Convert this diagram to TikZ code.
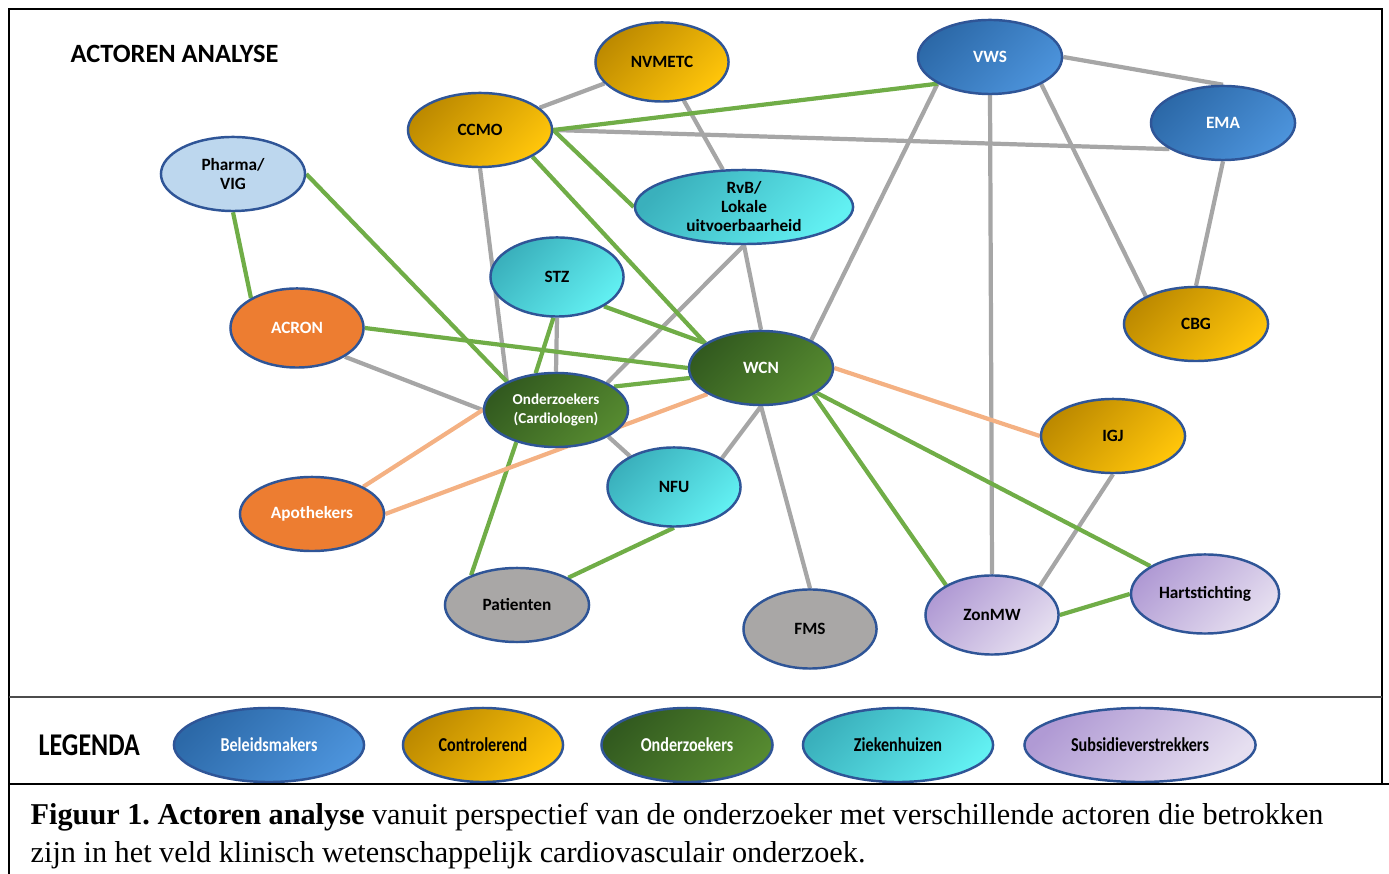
\documentclass[tikz,border=0pt]{standalone}
\usepackage{fontspec}
\setmainfont{Liberation Serif}
\setsansfont{Carlito}
\newfontfamily\legfont[FakeStretch=0.82]{Carlito}
\usetikzlibrary{shapes,backgrounds}
\frenchspacing

\definecolor{rim}{HTML}{2F5597}
\definecolor{beldark}{HTML}{2C69A8}
\definecolor{bellight}{HTML}{4C93DB}
\definecolor{condark}{HTML}{BD8A00}
\definecolor{conlight}{HTML}{FFC50A}
\definecolor{onddark}{HTML}{325A1F}
\definecolor{ondlight}{HTML}{568A30}
\definecolor{ziedark}{HTML}{3AB0BC}
\definecolor{zielight}{HTML}{62F0F2}
\definecolor{subdark}{HTML}{B09AD4}
\definecolor{sublight}{HTML}{E6DFF0}
\definecolor{oranje}{HTML}{ED7D31}
\definecolor{grijsvlak}{HTML}{A9A7A6}
\definecolor{pharmavlak}{HTML}{BDD7EE}
\definecolor{lijngrijs}{HTML}{A6A6A6}
\definecolor{lijngroen}{HTML}{70AD47}
\definecolor{lijnoranje}{HTML}{F4B183}

\begin{document}
\begin{tikzpicture}
[x=0.01cm, y=-0.01cm,
 actor/.style={ellipse, draw=rim, line width=0.7pt, inner sep=0pt, align=center,
   minimum width=1.44cm, minimum height=0.74cm,
   font=\sffamily\bfseries\fontsize{4.9}{5.4}\selectfont},
 rond/.style={minimum width=1.33cm, minimum height=0.79cm},
 beleid/.style={actor, top color=beldark, bottom color=bellight, shading angle=45, text=white},
 controle/.style={actor, top color=condark, bottom color=conlight, shading angle=45},
 onderz/.style={actor, top color=onddark, bottom color=ondlight, shading angle=45, text=white},
 zieken/.style={actor, top color=ziedark, bottom color=zielight, shading angle=45},
 subsidie/.style={actor, top color=subdark, bottom color=sublight, shading angle=45},
 apotheek/.style={actor, fill=oranje, text=white},
 grijs/.style={actor, fill=grijsvlak},
 pharma/.style={actor, fill=pharmavlak},
 legenda/.style={font=\legfont\bfseries\fontsize{5.6}{6}\selectfont},
 neutraal/.style={draw=lijngrijs, line width=1.2pt},
 positief/.style={draw=lijngroen, line width=1.2pt},
 spanning/.style={draw=lijnoranje, line width=1.2pt}]
\useasboundingbox (0,0) rectangle (1389,874);

\node (title) at (70,54)[anchor=west, inner sep=0pt, font=\sffamily\bfseries\fontsize{7.5}{9}\selectfont] {ACTOREN ANALYSE};

\node (nvmetc) at (662,62)[controle, rond] {NVMETC};
\node (ccmo) at (480,130)[controle] {CCMO};
\node (vws) at (990,57)[beleid] {VWS};
\node (ema) at (1223,123)[beleid] {EMA};
\node (pharma) at (233,174)[pharma] {Pharma/\\VIG};
\node (rvb) at (744,207)[zieken, minimum width=2.18cm] {RvB/\\Lokale\\uitvoerbaarheid};
\node (stz) at (557,277)[zieken, rond] {STZ};
\node (acron) at (297,328)[apotheek, rond] {ACRON};
\node (cbg) at (1196,324)[controle] {CBG};
\node (wcn) at (761,368)[onderz] {WCN};
\node (onder) at (556,410)[onderz, font=\sffamily\bfseries\fontsize{4.3}{5.2}\selectfont] {Onderzoekers\\(Cardiologen)};
\node (igj) at (1113,436)[controle] {IGJ};
\node (nfu) at (674,487)[zieken, rond] {NFU};
\node (apoth) at (312,514)[apotheek] {Apothekers};
\node (pat) at (517,605)[grijs] {Patienten};
\node (fms) at (810,629)[grijs, rond] {FMS};
\node (zon) at (992,615)[subsidie, rond] {ZonMW};
\node (hart) at (1205,594)[subsidie, minimum width=1.48cm, minimum height=0.79cm] {Hartstichting};

\begin{scope}[on background layer]
% grijze lijnen
\draw (ccmo) edge[neutraal] (nvmetc);
\draw (nvmetc) edge[neutraal] (rvb);
\draw (ccmo.east) edge[neutraal] (ema.206);
\draw (vws.east) edge[neutraal] (ema.north);
\draw (vws.south) edge[neutraal] (zon.north);
\draw (vws.-28) edge[neutraal] (cbg.151);
\draw (vws.207) edge[neutraal] (wcn.29);
\draw (ema.south) edge[neutraal] (cbg.north);
\draw (ccmo.south) edge[neutraal] (onder.150);
\draw (rvb.south) edge[neutraal] (wcn.north);
\draw (rvb.south) edge[neutraal] (onder.28);
\draw (stz.south) edge[neutraal] (onder.north);
\draw (acron.-31) edge[neutraal] (onder.west);
\draw (onder.-27) edge[neutraal] (nfu.145);
\draw (wcn.south) edge[neutraal] (nfu.31);
\draw (wcn.south) edge[neutraal] (fms.north);
\draw (igj.south) edge[neutraal] (zon.31);
% groene lijnen
\draw (ccmo.east) edge[positief] (vws.207);
\draw (ccmo.east) edge[positief] (rvb.west);
\draw (ccmo.-27) edge[positief] (wcn.156);
\draw (pharma.south) edge[positief] (acron.147);
\draw (pharma.east) edge[positief] (onder.150);
\draw (acron.east) edge[positief] (wcn.west);
\draw (stz.-32) edge[positief] (wcn.156);
\draw (stz.265) edge[positief] (onder.119);
\draw (onder.22) edge[positief] (wcn.188);
\draw (onder.219) edge[positief] (pat.147);
\draw (nfu.south) edge[positief] (pat.28);
\draw (wcn.-27) edge[positief] (zon.147);
\draw (wcn.-24) edge[positief] (hart.153);
\draw (zon.east) edge[positief] (hart.west);
% oranje lijnen
\draw (apoth.28) edge[spanning] (onder.west);
\draw (apoth.east) edge[spanning] (wcn.206);
\draw (wcn.east) edge[spanning] (igj.west);
\end{scope}

% legenda
\node (legtitle) at (38,745)[anchor=west, inner sep=0pt, font=\legfont\bfseries\fontsize{9}{10}\selectfont] {LEGENDA};
\node (legbel) at (269,745)[beleid, legenda, minimum width=1.90cm] {Beleidsmakers};
\node (legcon) at (483,745)[controle, legenda, minimum width=1.60cm] {Controlerend};
\node (legond) at (687,745)[onderz, legenda, minimum width=1.71cm] {Onderzoekers};
\node (legzie) at (898,745)[zieken, legenda, minimum width=1.90cm] {Ziekenhuizen};
\node (legsub) at (1140,745)[subsidie, legenda, minimum width=2.31cm] {Subsidieverstrekkers};

% kaders
\draw[line width=0.6pt] (9,9) rectangle (1382,784);
\draw[line width=0.6pt, black!70] (9,697) -- (1382,697);
\draw[line width=0.6pt] (9,784) -- (1389,784) (9,784) -- (9,874);

\node (caption) at (30,836)[anchor=west, align=left, inner sep=0pt,
  font=\fontsize{8.6}{10.9}\selectfont]
  {\textbf{Figuur 1. Actoren analyse} vanuit perspectief van de onderzoeker met verschillende actoren die betrokken\\
   zijn in het veld klinisch wetenschappelijk cardiovasculair onderzoek.};
\end{tikzpicture}
\end{document}
